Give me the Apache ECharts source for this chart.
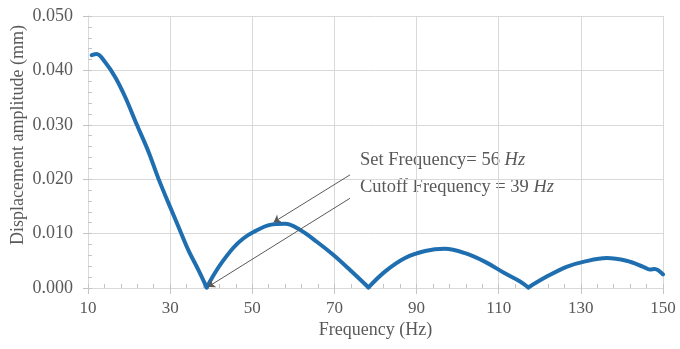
<!DOCTYPE html>
<html>
<head>
<meta charset="utf-8">
<script src="https://cdn.jsdelivr.net/npm/echarts@6/dist/echarts.min.js"></script>
<style>
  html, body { margin: 0; padding: 0; background: #ffffff; }
  #chart { width: 680px; height: 349px; }
</style>
</head>
<body>
<div id="chart"></div>
<script>
// Frequency sweep (Hz) and measured displacement amplitude (mm)
const frequency = [
  10.9, 12.1, 14.1, 16.6, 19.0, 21.9, 24.7, 27.1, 29.6, 32.0, 34.4, 36.9, 38.9,
  40.6, 42.6, 45.4, 47.8, 50.3, 54.3, 58.0, 61.6, 65.7, 69.7, 73.8, 78.3,
  82.3, 87.2, 92.1, 96.9, 101.8, 106.7, 111.5, 115.2, 117.2,
  121.7, 126.5, 130.6, 136.3, 141.1, 145.2, 146.8, 148.0, 150.0
];
const amplitude = [
  0.0428, 0.0430, 0.0416, 0.0388, 0.0352, 0.0300, 0.0251, 0.0202, 0.0156, 0.0113, 0.0070, 0.0033, 0.0001,
  0.0024, 0.0047, 0.0074, 0.0091, 0.0103, 0.0116, 0.0118, 0.0107, 0.0085, 0.0061, 0.0033, 0.0001,
  0.0030, 0.0055, 0.0068, 0.0072, 0.0064, 0.0048, 0.0027, 0.0012, 0.0001,
  0.0021, 0.0039, 0.0048, 0.0055, 0.0050, 0.0039, 0.0034, 0.0035, 0.0025
];

// Axis tick settings
const xTicks = { min: 10, max: 150, major: 20, minor: 4 };
const yTicks = { min: 0, max: 0.05, major: 0.01, minor: 0.002 };

// Annotation arrows: [tail, head] in data coordinates
const setArrow = [[73.8, 0.0208], [55.2, 0.0121]];
const cutoffArrow = [[73.8, 0.0165], [39.2, 0.0002]];
const setLabel = 'Set Frequency= 56 ';
const cutoffLabel = 'Cutoff Frequency = 39 ';
const unitLabel = 'Hz';

const serif = '"Liberation Serif", "DejaVu Serif", serif';
const textGray = '#595959';
const gridGray = '#d9d9d9';
const tickGray = '#c4c4c4';
const curveBlue = '#1f6fb0';

const chart = echarts.init(document.getElementById('chart'), null, { renderer: 'canvas' });

const points = frequency.map((f, i) => [f, amplitude[i]]);

// Split the response into lobes at its near-zero minima so each lobe is
// smoothed on its own and the notches stay sharp.
const lobes = [];
let current = [];
points.forEach((p, i) => {
  current.push(p);
  const isNotch = i > 0 && i < points.length - 1 &&
    p[1] < amplitude[i - 1] && p[1] < amplitude[i + 1] && p[1] < 0.0015;
  if (isNotch) {
    lobes.push(current);
    current = [p];
  }
});
lobes.push(current);

const lobeSeries = lobes.map(lobe => ({
  type: 'line',
  xAxisIndex: 0, yAxisIndex: 0,
  data: lobe,
  showSymbol: false,
  smooth: 0.35,
  lineStyle: { color: curveBlue, width: 4, cap: 'round', join: 'round' },
  z: 3
}));

lobeSeries[0].markLine = {
  silent: true,
  symbol: ['none', 'arrow'],
  symbolSize: 7,
  label: { show: false },
  lineStyle: { color: '#5a5a5a', width: 1, type: 'solid' },
  emphasis: { disabled: true },
  data: [
    [{ coord: setArrow[0] }, { coord: setArrow[1] }],
    [{ coord: cutoffArrow[0] }, { coord: cutoffArrow[1] }]
  ]
};

const annotationRich = {
  r: { fontFamily: serif, fontSize: 18.5, fill: textGray },
  i: { fontFamily: serif, fontSize: 18.5, fill: textGray, fontStyle: 'italic' }
};

chart.setOption({
  animation: false,
  backgroundColor: '#ffffff',
  grid: {
    left: 88, right: 17, top: 16, bottom: 61,
    containLabel: false, outerBoundsMode: 'none'
  },
  xAxis: [
    {
      type: 'value', min: xTicks.min, max: xTicks.max, interval: xTicks.major,
      name: 'Frequency (Hz)', nameLocation: 'middle', nameGap: 33,
      nameMoveOverlap: false,
      nameTextStyle: { fontFamily: serif, fontSize: 18, color: textGray },
      axisLine: { show: true, lineStyle: { color: gridGray, width: 1 } },
      axisTick: { show: true, inside: false, length: 6, lineStyle: { color: tickGray } },
      axisLabel: { fontFamily: serif, fontSize: 17, color: textGray, margin: 12 },
      splitLine: { show: true, lineStyle: { color: gridGray, width: 1 } }
    },
    {
      // minor ticks pointing into the plot
      type: 'value', min: xTicks.min, max: xTicks.max, interval: xTicks.minor,
      position: 'bottom',
      axisLine: { show: false },
      axisTick: { show: true, inside: true, length: 4, lineStyle: { color: tickGray } },
      axisLabel: { show: false },
      splitLine: { show: false }
    }
  ],
  yAxis: [
    {
      type: 'value', min: yTicks.min, max: yTicks.max, interval: yTicks.major,
      name: 'Displacement amplitude (mm)', nameLocation: 'middle', nameGap: 61,
      nameMoveOverlap: false,
      nameTextStyle: { fontFamily: serif, fontSize: 18, color: textGray, padding: [0, 0, 0, 34] },
      axisLine: { show: true, lineStyle: { color: gridGray, width: 1 } },
      axisTick: { show: true, inside: false, length: 5, lineStyle: { color: tickGray } },
      axisLabel: {
        fontFamily: serif, fontSize: 18, color: textGray, margin: 15,
        formatter: v => v.toFixed(3)
      },
      splitLine: { show: true, lineStyle: { color: gridGray, width: 1 } }
    },
    {
      type: 'value', min: yTicks.min, max: yTicks.max, interval: yTicks.minor,
      position: 'left',
      axisLine: { show: false },
      axisTick: { show: true, inside: true, length: 4, lineStyle: { color: tickGray } },
      axisLabel: { show: false },
      splitLine: { show: false }
    }
  ],
  series: lobeSeries,
  graphic: [
    {
      type: 'text', x: 360, y: 160, silent: true,
      style: {
        text: '{r|' + setLabel + '}{i|' + unitLabel + '}',
        verticalAlign: 'middle',
        rich: annotationRich
      }
    },
    {
      type: 'text', x: 360, y: 187, silent: true,
      style: {
        text: '{r|' + cutoffLabel + '}{i|' + unitLabel + '}',
        verticalAlign: 'middle',
        rich: annotationRich
      }
    }
  ]
});
</script>
</body>
</html>
